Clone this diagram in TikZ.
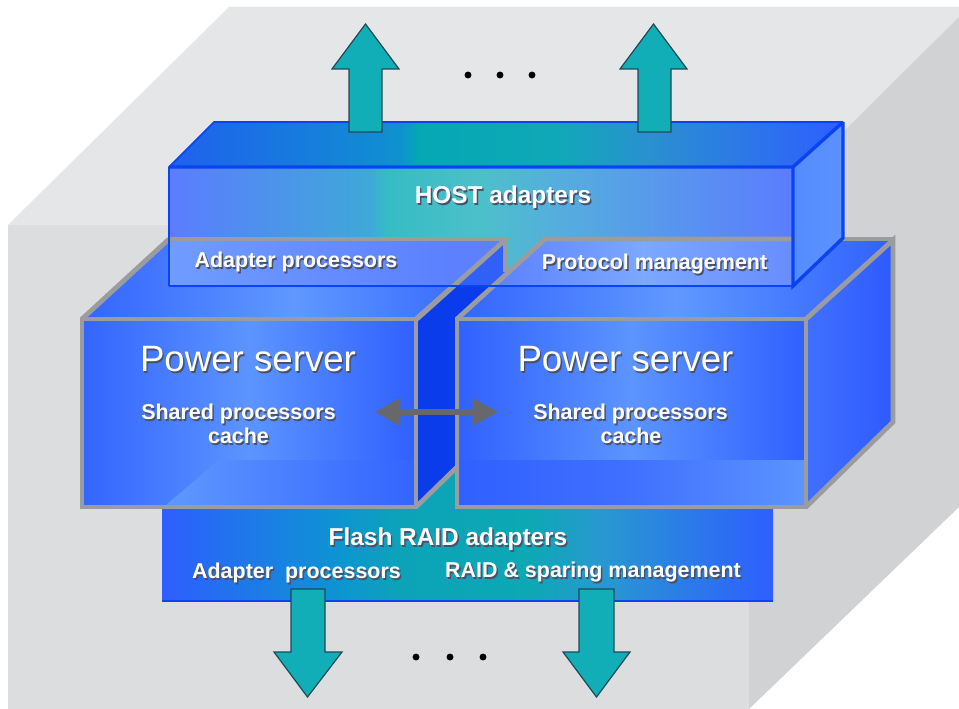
\documentclass[tikz,border=0pt]{standalone}
\usepackage{fontspec}
\setmainfont{Liberation Sans}
\usetikzlibrary{arrows.meta}
\definecolor{bgtop}{HTML}{E5E6E8}
\definecolor{bgfront}{HTML}{DCDDDF}
\definecolor{bgside}{HTML}{D1D2D4}
\definecolor{tealarrow}{HTML}{12AEB8}
\definecolor{arrowedge}{HTML}{1E4A55}
\definecolor{hostline}{HTML}{0A44F2}
\definecolor{greyedge}{HTML}{9A9CA0}
\definecolor{band}{HTML}{0A3CEB}
\definecolor{bandlight}{HTML}{3060F8}
\definecolor{dgrey}{HTML}{66686C}
\definecolor{shadowc}{HTML}{4A5068}
\definecolor{blueD}{HTML}{3464FF}
\definecolor{blueE}{HTML}{6098FF}
\definecolor{blueF}{HTML}{5C94FF}
\definecolor{blueG}{HTML}{3060FF}
\definecolor{blueH}{HTML}{709CFF}
\definecolor{blueI}{HTML}{5C80FF}
\definecolor{blueJ}{HTML}{7CA8FF}
\definecolor{blueK}{HTML}{688CFF}
\definecolor{blueL}{HTML}{4070FF}
\definecolor{blueM}{HTML}{2E5AFF}
\definecolor{blueN}{HTML}{548CFF}
\definecolor{blueO}{HTML}{5C92FF}
\pgfdeclarehorizontalshading{hosttop}{100bp}{
  rgb(0bp)=(.125,.376,.933);
  rgb(25bp)=(.125,.376,.933);
  rgb(42bp)=(.06,.565,.816);
  rgb(43.6bp)=(.016,.659,.706);
  rgb(54bp)=(.063,.659,.722);
  rgb(60.7bp)=(.165,.565,.816);
  rgb(75bp)=(.18,.369,1);
  rgb(100bp)=(.18,.369,1)}
\pgfdeclarehorizontalshading{hostfront}{100bp}{
  rgb(0bp)=(.36,.486,1);
  rgb(25bp)=(.36,.486,1);
  rgb(41bp)=(.247,.659,.847);
  rgb(42.5bp)=(.212,.737,.769);
  rgb(50bp)=(.298,.753,.792);
  rgb(56bp)=(.333,.682,.867);
  rgb(75bp)=(.36,.486,1);
  rgb(100bp)=(.36,.486,1)}
\pgfdeclarehorizontalshading{flashfront}{100bp}{
  rgb(0bp)=(.18,.369,1);
  rgb(25bp)=(.18,.369,1);
  rgb(40bp)=(.047,.588,.816);
  rgb(44.5bp)=(.047,.639,.722);
  rgb(55bp)=(.047,.659,.706);
  rgb(61bp)=(.157,.596,.816);
  rgb(75bp)=(.18,.369,1);
  rgb(100bp)=(.18,.369,1)}
\newcommand{\shtxt}[1]{\makebox[0pt][l]{\hspace{1.1pt}\raisebox{-1.1pt}{\textcolor{shadowc}{#1}}}\textcolor{white}{#1}}
\tikzset{
  gradthree/.style n args={3}{left color=#1,right color=#3,middle color=#2},
  gradtwo/.style n args={2}{left color=#1,right color=#2},
  tealbox/.style={fill=tealarrow,draw=arrowedge,line width=.9pt,line join=miter},
  greyline/.style={draw=greyedge,line width=3.6pt,line join=miter},
  blueline/.style={draw=hostline,line width=2.6pt,line join=miter},
  thinblue/.style={draw=hostline,line width=1.2pt},
  lab/.style={inner sep=0pt,align=center,anchor=center},
  labA/.style={lab,font=\fontsize{18.3}{22}\selectfont\bfseries},
  labB/.style={lab,font=\fontsize{16.1}{18}\selectfont\bfseries},
  labC/.style={lab,font=\fontsize{27.5}{32}\selectfont},
  dotmark/.style={circle,fill=black,inner sep=0pt,minimum size=5.2pt},
  dblarrow/.style={draw=dgrey,line width=3.8pt,{Triangle[length=19pt,width=20pt]}-{Triangle[length=19pt,width=20pt]}}
}
\begin{document}
\begin{tikzpicture}[x=.75pt,y=-.75pt]
\useasboundingbox (0,0) rectangle (959,709);
\fill[white] (0,0) rectangle (959,709);
% box around everything
\fill[bgtop] (8,225) -- (229,7) -- (959,7) -- (959,17) -- (749,225) -- cycle;
\fill[bgside] (749,225) -- (959,17) -- (959,507) -- (749,709) -- cycle;
\fill[bgfront] (8,225) rectangle (749,709);
% flash adapter
\shade[shading=flashfront] (162,460) rectangle (773,601);
\draw[thinblue] (162,601) -- (773,601);
% host adapter
\shade[shading=hosttop] (169,167) -- (214,122) -- (843,122) -- (793,167) -- cycle;
\shade[shading=hostfront] (169,167) rectangle (793,286);
% left server
\shade[gradthree={blueD}{blueE}{blueG}] (82,319) -- (168,240) -- (505,240) -- (416,319) -- cycle;
\fill[band] (505,240) -- (416,319) -- (416,505) -- (457,466) -- (505,420) -- cycle;
\shade[gradthree={blueD}{blueF}{blueG}] (82,319) rectangle (416,507);
\shade[gradtwo={blueE}{blueD}] (166,505) -- (219,460) -- (414,460) -- (414,505) -- cycle;
\draw[greyline] (82,507) -- (82,319) -- (416,319) -- (416,507) -- cycle;
\draw[greyline] (82,319) -- (168,240) -- (505,240) -- (416,319);
\draw[greyline] (416,507) -- (457,467);
% right server
\shade[gradthree={blueD}{blueE}{blueG}] (457,319) -- (545,240) -- (893,240) -- (806,319) -- cycle;
\shade[gradtwo={blueL}{blueM}] (806,319) -- (893,240) -- (893,422) -- (806,507) -- cycle;
\shade[gradthree={blueG}{blueF}{blueG}] (457,319) rectangle (806,507);
\shade[gradthree={blueG}{blueL}{blueF}] (459,460) rectangle (805,505);
\draw[greyline] (457,507) -- (457,319) -- (806,319) -- (806,507) -- cycle;
\draw[greyline] (806,319) -- (893,240) -- (893,422) -- (806,507);
\draw[greyline] (545,239) -- (893,239);
% panels on the host adapter
\shade[gradtwo={blueH}{blueI}] (169,239) rectangle (453,286);
\fill[blueI] (452,239) -- (505,239) -- (453,286) -- (452,286) -- cycle;
\shade[gradthree={blueI}{blueJ}{blueK}] (545,239) -- (793,239) -- (793,286) -- (493,286) -- cycle;
\fill[bandlight] (505,240) -- (453,286) -- (493,286) -- (505,275) -- cycle;
\draw[greyline] (169,239) -- (505,239) -- (505,272);
\draw[greyline] (505,240) -- (417,319);
\draw[greyline] (457,319) -- (545,239) -- (793,239);
% host adapter lines and side
\shade[gradtwo={blueN}{blueO}] (793,167) -- (843,122) -- (843,238) -- (793,286) -- cycle;
\draw[blueline] (169,167) -- (793,167) -- (843,122);
\draw[blueline] (793,167) -- (793,286) -- (843,238) -- (843,122);
\draw[thinblue] (169,286) -- (793,286);
\draw[thinblue] (169,286) -- (169,167) -- (214,122) -- (843,122);
% teal arrows
\draw[tealbox] (349,132) -- (349,69) -- (332,69) -- (365.5,24) -- (399,69) -- (382,69) -- (382,132) -- cycle;
\draw[tealbox] (638,132) -- (638,69) -- (620,69) -- (653.5,24) -- (687,69) -- (671,69) -- (671,132) -- cycle;
\draw[tealbox] (291,589) -- (291,652) -- (274,652) -- (307.5,697) -- (342,652) -- (325,652) -- (325,589) -- cycle;
\draw[tealbox] (579,589) -- (579,652) -- (563,652) -- (596.5,697) -- (630,652) -- (614,652) -- (614,589) -- cycle;
% dots
\node[dotmark] (dotA) at (468,75) {};
\node[dotmark] (dotB) at (500,75) {};
\node[dotmark] (dotC) at (532,75) {};
\node[dotmark] (dotD) at (416,657) {};
\node[dotmark] (dotE) at (450,657) {};
\node[dotmark] (dotF) at (483,657) {};
% labels
\node[labA] (host) at (503,198) {\shtxt{HOST adapters}};
\node[labB] (adpA) at (296,263) {\shtxt{Adapter processors}};
\node[labB] (prot) at (654.5,265) {\shtxt{Protocol management}};
\node[labC] (psA) at (248,360) {\shtxt{Power server}};
\node[labC] (psB) at (625.5,360) {\shtxt{Power server}};
\node[labB] (shA) at (238.5,415) {\shtxt{Shared processors}};
\node[labB] (caA) at (238.5,437) {\shtxt{cache}};
\node[labB] (shB) at (630.5,415) {\shtxt{Shared processors}};
\node[labB] (caB) at (631,437) {\shtxt{cache}};
\node[labA] (flash) at (448,540) {\shtxt{Flash RAID adapters}};
\node[labB] (adpB) at (296.5,574) {\shtxt{Adapter\ \ processors}};
\node[labB] (raid) at (593,573) {\shtxt{RAID \& sparing management}};
% double arrow
\coordinate (dl) at (375,412);
\coordinate (dr) at (498,412);
\draw[dblarrow] (dl) -- (dr);
\end{tikzpicture}
\end{document}
